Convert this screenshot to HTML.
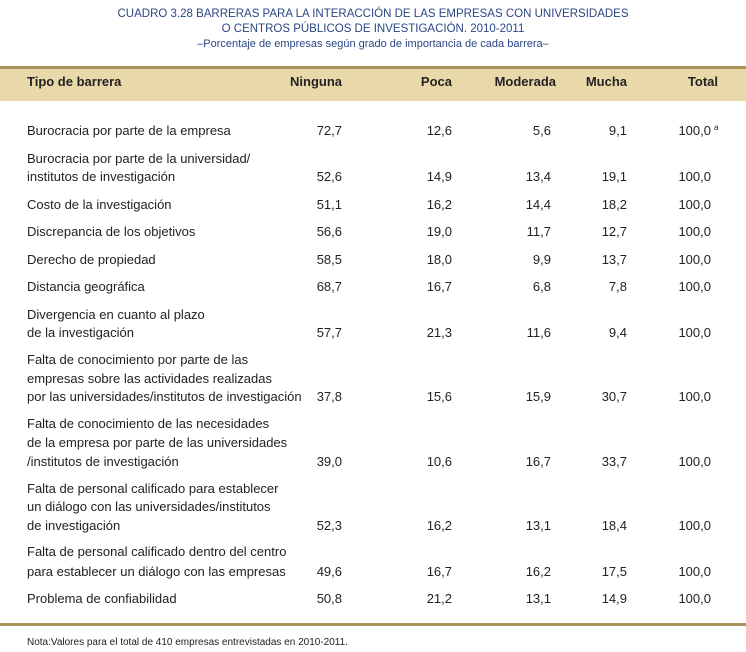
<!DOCTYPE html>
<html><head><meta charset="utf-8"><style>
body{margin:0;width:746px;height:652px;background:#fff;position:relative;font-family:"Liberation Sans",sans-serif;color:#222;overflow:hidden}
.t{position:absolute;left:0;width:746px;text-align:center;color:#2a4684;font-size:11.5px;line-height:14px}
.band{position:absolute;left:0;width:746px;top:66px;height:32px;background:#e9d9aa;border-top:3px solid #a8955a}
.h{position:absolute;top:74px;font-weight:bold;font-size:13px;color:#222}
.r{position:absolute;font-size:13px;line-height:16px;white-space:nowrap}
.n{position:absolute;font-size:13px;line-height:16px;text-align:right;width:60px;white-space:nowrap}
.line{position:absolute;left:0;width:746px;top:623px;height:3px;background:#a8955a}
.note{position:absolute;left:27px;top:637px;font-size:10px}
</style></head><body>
<div class="t" style="top:7px">CUADRO 3.28 BARRERAS PARA LA INTERACCIÓN DE LAS EMPRESAS CON UNIVERSIDADES</div>
<div class="t" style="top:22px">O CENTROS PÚBLICOS DE INVESTIGACIÓN. 2010-2011</div>
<div class="t" style="top:37px;font-size:11px">–Porcentaje de empresas según grado de importancia de cada barrera–</div>
<div class="band"></div>
<div class="h" style="left:27px">Tipo de barrera</div>
<div class="h" style="left:282px;width:60px;text-align:right">Ninguna</div>
<div class="h" style="left:392px;width:60px;text-align:right">Poca</div>
<div class="h" style="left:471px;width:85px;text-align:right">Moderada</div>
<div class="h" style="left:567px;width:60px;text-align:right">Mucha</div>
<div class="h" style="left:658px;width:60px;text-align:right">Total</div>
<div id="rows"></div>
<div class="line"></div>
<div class="note">Nota:Valores para el total de 410 empresas entrevistadas en 2010-2011.</div>
<script>
var rows=[
[[131],["Burocracia por parte de la empresa"],["72,7","12,6","5,6","9,1","100,0 ª"]],
[[159,177],["Burocracia por parte de la universidad/","institutos de investigación"],["52,6","14,9","13,4","19,1","100,0"]],
[[205],["Costo de la investigación"],["51,1","16,2","14,4","18,2","100,0"]],
[[232],["Discrepancia de los objetivos"],["56,6","19,0","11,7","12,7","100,0"]],
[[260],["Derecho de propiedad"],["58,5","18,0","9,9","13,7","100,0"]],
[[287],["Distancia geográfica"],["68,7","16,7","6,8","7,8","100,0"]],
[[315,333],["Divergencia en cuanto al plazo","de la investigación"],["57,7","21,3","11,6","9,4","100,0"]],
[[360,379,397],["Falta de conocimiento por parte de las","empresas sobre las actividades realizadas","por las universidades/institutos de investigación"],["37,8","15,6","15,9","30,7","100,0"]],
[[424,443,462],["Falta de conocimiento de las necesidades","de la empresa por parte de las universidades","/institutos de investigación"],["39,0","10,6","16,7","33,7","100,0"]],
[[489,507,526],["Falta de personal calificado para establecer","un diálogo con las universidades/institutos","de investigación"],["52,3","16,2","13,1","18,4","100,0"]],
[[552,572],["Falta de personal calificado dentro del centro","para establecer un diálogo con las empresas"],["49,6","16,7","16,2","17,5","100,0"]],
[[599],["Problema de confiabilidad"],["50,8","21,2","13,1","14,9","100,0"]]];
var rights=[342,452,551,627,711],h="";
rows.forEach(function(r){r[0].forEach(function(y,i){h+='<div class="r" style="left:27px;top:'+(y-8)+'px">'+r[1][i]+'</div>';});
var y=r[0][r[0].length-1];r[2].forEach(function(v,i){var rr=rights[i];
if(v.indexOf("ª")>0){h+='<div class="n" style="left:'+(rr-60)+'px;top:'+(y-8)+'px">100,0</div><div class="r" style="left:'+(rr+3)+'px;top:'+(y-11)+'px;font-size:8px">a</div>';}
else h+='<div class="n" style="left:'+(rr-60)+'px;top:'+(y-8)+'px">'+v+'</div>';});});
document.getElementById("rows").innerHTML=h;
</script>
</body></html>
